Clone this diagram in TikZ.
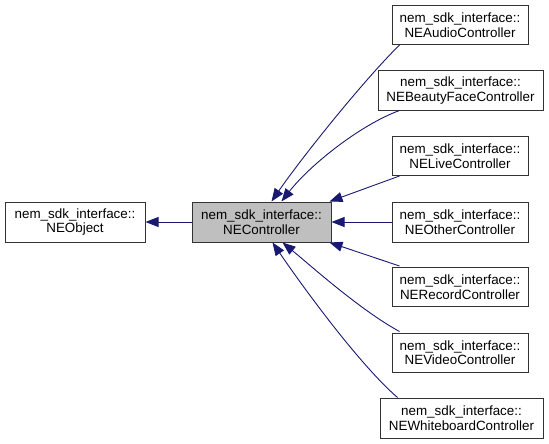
\documentclass[tikz,border=0pt]{standalone}
\usepackage{fontspec}
\setmainfont{Liberation Sans}
\usetikzlibrary{arrows.meta,calc}
\definecolor{edgeblue}{HTML}{191970}
\definecolor{boxgray}{HTML}{BFBFBF}
\begin{document}
\begin{tikzpicture}[x=1pt,y=-1pt,
 cls/.style={draw=black!80, line width=1pt, fill=white, align=center, inner sep=0pt,
   font=\fontsize{13.4}{14.5}\selectfont, minimum height=39pt},
 inh/.style={draw=edgeblue, line width=0.9pt, -{Triangle[length=13pt,width=10pt,fill=edgeblue]}},
]
\useasboundingbox (0,0) rectangle (549,444);
\node[cls, minimum width=140pt, minimum height=40pt] (obj) at (75,222) {nem\_sdk\_interface::\\NEObject};
\node[cls, fill=boxgray, minimum width=139pt, minimum height=40pt] (ctrl) at (261.5,222) {nem\_sdk\_interface::\\NEController};
\node[cls, minimum width=136pt] (audio) at (460,25) {nem\_sdk\_interface::\\NEAudioController};
\node[cls, minimum width=165pt] (beauty) at (460.5,90.5) {nem\_sdk\_interface::\\NEBeautyFaceController};
\node[cls, minimum width=136pt] (live) at (460,156) {nem\_sdk\_interface::\\NELiveController};
\node[cls, minimum width=136pt, minimum height=40pt] (other) at (460,222) {nem\_sdk\_interface::\\NEOtherController};
\node[cls, minimum width=136pt] (record) at (460,287) {nem\_sdk\_interface::\\NERecordController};
\node[cls, minimum width=136pt] (video) at (460,352.5) {nem\_sdk\_interface::\\NEVideoController};
\node[cls, minimum width=163pt, minimum height=40pt] (wb) at (461.5,418) {nem\_sdk\_interface::\\NEWhiteboardController};

\draw[inh] (ctrl.west) -- (obj.east);
\draw[inh] ($(audio.south west)+(8,0)$) .. controls (362,82) and (300,160) .. ($(ctrl.north west)+(80,0)$);
\draw[inh] ($(beauty.south west)+(22,0)$) .. controls (360,125) and (310,165) .. ($(ctrl.north west)+(90,0)$);
\draw[inh] ($(live.south west)+(8,0)$) -- ($(ctrl.north east)+(-2,0)$);
\draw[inh] (other.west) -- (ctrl.east);
\draw[inh] ($(record.north west)+(8,-1)$) -- ($(ctrl.south east)+(-2,0)$);
\draw[inh] ($(video.north west)+(8,-1)$) .. controls (360,310) and (310,265) .. ($(ctrl.south west)+(91,0)$);
\draw[inh] ($(wb.north west)+(18,0)$) .. controls (360,365) and (305,290) .. ($(ctrl.south west)+(81,0)$);
\end{tikzpicture}
\end{document}
